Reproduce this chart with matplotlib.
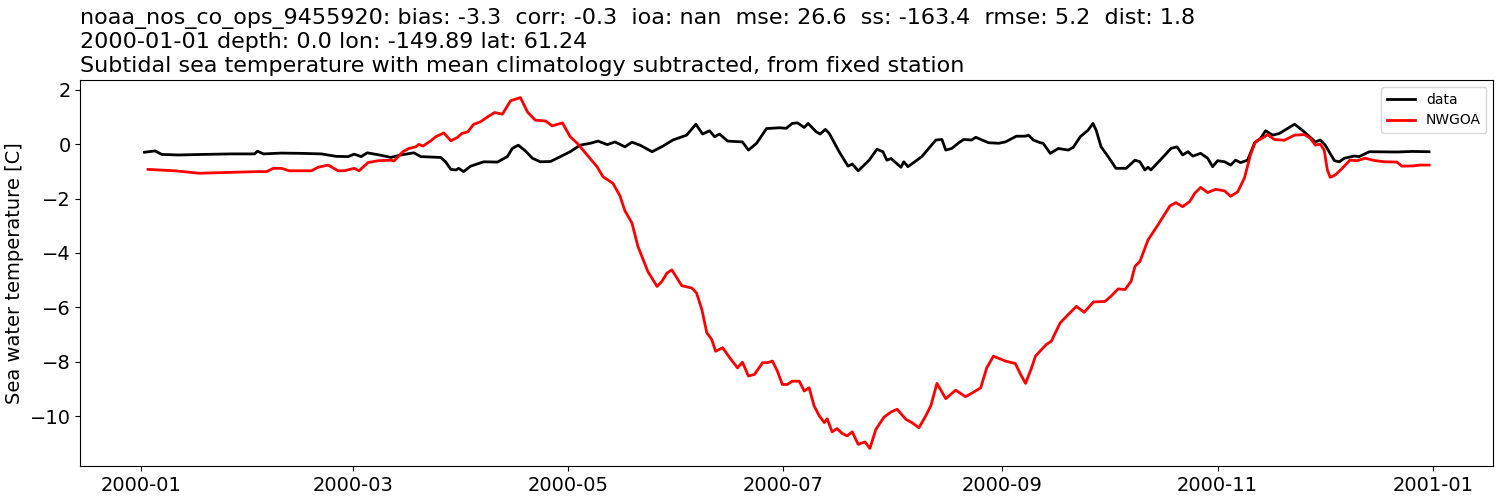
import numpy as np
import pandas as pd
import matplotlib
matplotlib.use("Agg")
import matplotlib.pyplot as plt
import matplotlib.dates as mdates

# days since 2000-01-01 and values
data_days = [1.0, 4.0, 5.9, 10.7, 17.2, 25.7, 32.2, 33.0, 34.7, 39.8, 45.4, 51.1, 55.3, 58.7, 60.4, 62.4,
             64.1, 68.0, 70.8, 73.6, 77.3, 79.3, 84.9, 86.3, 87.8, 89.2, 90.0, 91.4, 93.4, 97.1, 101.0,
             103.8, 105.2, 106.9, 108.9, 110.9, 113.1, 116.0, 117.9, 121.6, 124.4, 127.3, 129.5, 132.1,
             134.3, 137.1, 139.1, 141.4, 144.8, 147.9, 150.7, 154.6, 157.2, 159.1, 161.1, 162.5, 163.9,
             166.2, 170.4, 172.1, 174.4, 177.2, 180.9, 182.8, 184.5, 186.0, 187.9, 189.0, 191.3, 192.4,
             193.9, 195.0, 197.8, 200.3, 201.5, 203.2, 206.3, 208.5, 210.2, 211.3, 212.5, 215.3, 216.1,
             217.3, 221.2, 225.2, 226.9, 228.0, 229.7, 231.7, 233.1, 235.3, 236.5, 240.1, 243.0, 244.9,
             248.0, 250.6, 251.4, 252.8, 254.8, 255.6, 257.6, 259.9, 262.7, 264.1, 266.1, 268.3, 269.7,
             270.6, 272.0, 274.0, 276.2, 279.1, 281.6, 283.0, 284.4, 285.3, 286.1, 290.1, 291.8, 293.5,
             295.1, 296.6, 298.0, 300.2, 302.2, 303.6, 305.0, 307.0, 308.7, 310.1, 311.5, 313.5, 315.5,
             317.2, 318.6, 320.6, 322.5, 326.8, 329.0, 332.7, 334.1, 335.5, 338.1, 339.5, 340.9, 343.7,
             345.1, 348.0, 355.8, 360.1, 364.9]
data_vals = [-0.30, -0.25, -0.38, -0.40, -0.38, -0.36, -0.36, -0.26, -0.36, -0.33, -0.34, -0.36, -0.45,
             -0.46, -0.37, -0.46, -0.32, -0.41, -0.49, -0.40, -0.32, -0.46, -0.49, -0.65, -0.93, -0.95,
             -0.89, -1.01, -0.81, -0.65, -0.66, -0.46, -0.16, -0.04, -0.25, -0.52, -0.65, -0.64, -0.52,
             -0.28, -0.04, 0.03, 0.11, -0.02, 0.08, -0.10, 0.07, -0.04, -0.28, -0.07, 0.15, 0.33, 0.73,
             0.37, 0.49, 0.27, 0.37, 0.11, 0.08, -0.22, 0.03, 0.57, 0.60, 0.58, 0.76, 0.78, 0.61, 0.76,
             0.45, 0.37, 0.54, 0.39, -0.28, -0.81, -0.73, -0.98, -0.59, -0.19, -0.28, -0.59, -0.53, -0.85,
             -0.65, -0.83, -0.46, 0.15, 0.17, -0.22, -0.16, 0.05, 0.17, 0.15, 0.25, 0.05, 0.03, 0.08, 0.29,
             0.29, 0.33, 0.15, 0.05, 0.03, -0.34, -0.16, -0.22, -0.12, 0.27, 0.51, 0.76, 0.51, -0.10,
             -0.46, -0.89, -0.89, -0.59, -0.65, -0.95, -0.85, -0.95, -0.40, -0.16, -0.10, -0.40, -0.28,
             -0.44, -0.34, -0.52, -0.83, -0.61, -0.65, -0.77, -0.59, -0.68, -0.59, 0.05, 0.21, 0.49, 0.33,
             0.39, 0.73, 0.51, 0.08, 0.15, -0.04, -0.61, -0.65, -0.52, -0.44, -0.46, -0.28, -0.29, -0.27,
             -0.28]

model_days = [2.0, 9.6, 16.4, 24.8, 33.3, 35.6, 37.5, 39.8, 42.0, 48.3, 50.2, 53.0, 55.9, 57.6, 60.4,
              61.8, 64.3, 67.2, 70.8, 71.7, 74.2, 75.9, 77.9, 78.7, 79.9, 82.1, 83.5, 85.8, 87.8, 89.7,
              90.9, 92.6, 94.2, 96.2, 98.2, 100.2, 102.4, 104.7, 107.5, 109.5, 111.7, 114.6, 116.5, 119.4,
              121.6, 123.6, 126.4, 129.2, 130.9, 133.7, 135.7, 137.1, 139.1, 140.8, 143.6, 146.2, 147.6,
              149.0, 150.4, 153.2, 156.1, 157.4, 158.9, 160.3, 161.7, 162.8, 164.8, 166.8, 169.0, 170.4,
              172.1, 173.8, 176.1, 177.5, 178.9, 180.3, 181.7, 183.1, 184.5, 186.5, 187.9, 189.3, 190.7,
              192.2, 193.6, 194.4, 195.8, 197.2, 198.6, 200.0, 201.5, 203.2, 205.1, 206.5, 208.2, 210.5,
              212.5, 214.2, 216.7, 218.4, 220.4, 222.3, 223.8, 225.5, 228.0, 230.8, 233.6, 235.9, 237.9,
              239.6, 241.5, 244.9, 247.7, 249.2, 250.6, 252.3, 253.4, 255.1, 256.5, 257.9, 260.4, 262.7,
              265.0, 267.2, 269.8, 273.1, 274.8, 276.8, 278.8, 280.5, 281.6, 283.0, 285.3, 288.1, 291.5,
              293.2, 295.1, 297.1, 298.5, 300.2, 302.2, 304.5, 307.0, 308.7, 310.7, 312.6, 314.3, 315.7,
              318.3, 319.1, 321.1, 323.9, 326.8, 329.6, 331.3, 332.7, 334.1, 335.2, 336.1, 336.9, 338.3,
              340.3, 342.5, 344.5, 346.8, 349.3, 352.1, 355.8, 357.2, 360.6, 362.3, 364.9]
model_vals = [-0.93, -0.98, -1.07, -1.04, -1.01, -1.01, -0.89, -0.89, -0.98, -0.98, -0.85, -0.77, -0.98,
              -0.98, -0.89, -0.98, -0.68, -0.61, -0.59, -0.62, -0.28, -0.16, -0.10, -0.01, -0.07, 0.12,
              0.27, 0.41, 0.12, 0.25, 0.39, 0.45, 0.72, 0.82, 1.00, 1.16, 1.10, 1.59, 1.71, 1.18, 0.88,
              0.85, 0.67, 0.78, 0.27, 0.03, -0.40, -0.83, -1.20, -1.44, -1.90, -2.45, -2.90, -3.76, -4.68,
              -5.23, -5.04, -4.74, -4.62, -5.20, -5.29, -5.47, -6.08, -6.93, -7.18, -7.61, -7.48, -7.85,
              -8.22, -8.01, -8.52, -8.46, -8.03, -8.03, -7.97, -8.34, -8.83, -8.83, -8.71, -8.71, -9.07,
              -8.95, -9.62, -9.99, -10.23, -10.09, -10.57, -10.45, -10.62, -10.72, -10.57, -11.03, -10.94,
              -11.18, -10.48, -10.03, -9.84, -9.74, -10.11, -10.23, -10.42, -9.99, -9.60, -8.79, -9.35,
              -9.04, -9.28, -9.11, -8.95, -8.22, -7.79, -7.97, -8.06, -8.46, -8.79, -8.22, -7.79, -7.55,
              -7.36, -7.24, -6.57, -6.26, -5.96, -6.18, -5.80, -5.78, -5.59, -5.32, -5.34, -5.04, -4.49,
              -4.31, -3.52, -2.97, -2.27, -2.15, -2.30, -2.11, -1.81, -1.59, -1.78, -1.66, -1.72, -1.92,
              -1.75, -1.25, -0.40, 0.08, 0.27, 0.35, 0.17, 0.14, 0.33, 0.35, 0.21, -0.04, 0.00, -0.22,
              -0.95, -1.22, -1.14, -0.89, -0.59, -0.61, -0.52, -0.60, -0.65, -0.66, -0.81, -0.80, -0.77,
              -0.77]

title_lines = [
    "noaa_nos_co_ops_9455920: bias: -3.3  corr: -0.3  ioa: nan  mse: 26.6  ss: -163.4  rmse: 5.2  dist: 1.8",
    "2000-01-01 depth: 0.0 lon: -149.89 lat: 61.24",
    "Subtidal sea temperature with mean climatology subtracted, from fixed station",
]
tick_dates = ["2000-01-01", "2000-03-01", "2000-05-01", "2000-07-01",
              "2000-09-01", "2000-11-01", "2001-01-01"]

start = pd.Timestamp("2000-01-01")
t_data = start + pd.to_timedelta(data_days, unit="D")
t_model = start + pd.to_timedelta(model_days, unit="D")

fig, ax = plt.subplots(figsize=(15, 5), dpi=100)
fig.subplots_adjust(left=0.0535, right=0.9955, top=0.84, bottom=0.068)
ax.plot(t_data, data_vals, color="black", lw=2, label="data")
ax.plot(t_model, model_vals, color="red", lw=2, label="NWGOA")
ax.set_ylabel("Sea water temperature [C]", fontsize=14)
ax.set_title("\n".join(title_lines), loc="left", fontsize=16)
ax.tick_params(labelsize=14)
ax.set_xticks(pd.to_datetime(tick_dates))
ax.xaxis.set_major_formatter(mdates.DateFormatter("%Y-%m"))
ax.legend(loc="upper right", fontsize=10)
fig.savefig("out.png")
